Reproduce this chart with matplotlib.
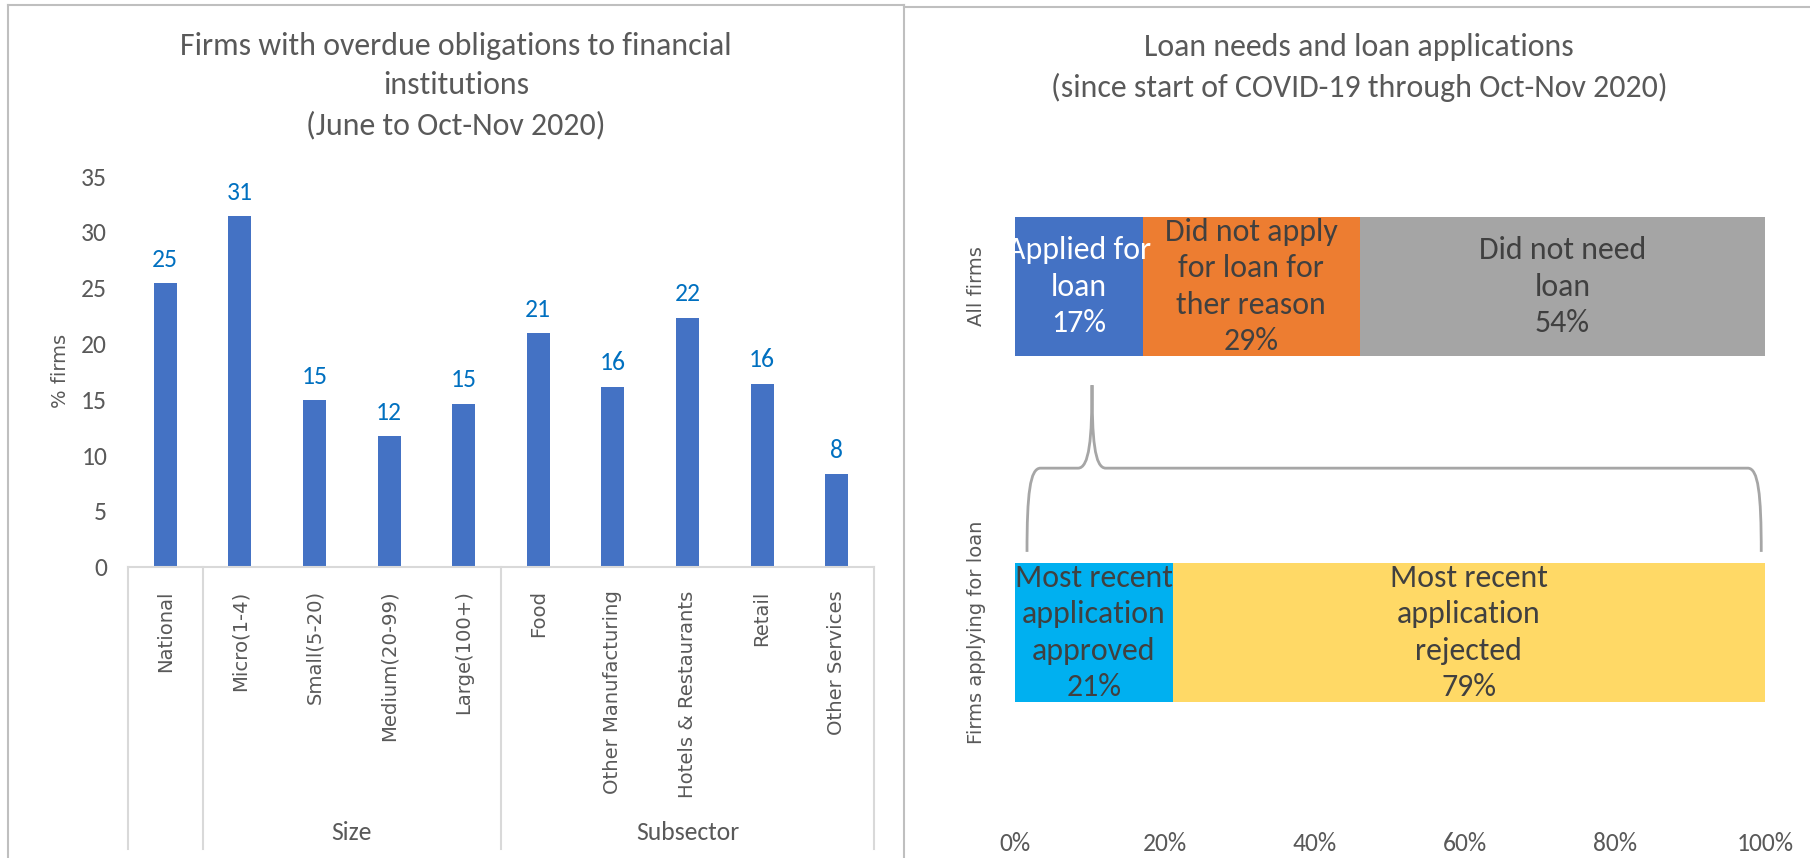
import matplotlib
matplotlib.use("Agg")
import matplotlib.pyplot as plt
from matplotlib import font_manager
from matplotlib.path import Path
from matplotlib.patches import PathPatch
from matplotlib.lines import Line2D
import matplotlib.transforms as mtransforms
from matplotlib.ticker import FuncFormatter

# overdue obligations by firm group (% of firms)
categories = ["National", "Micro(1-4)", "Small(5-20)", "Medium(20-99)", "Large(100+)",
              "Food", "Other Manufacturing", "Hotels & Restaurants", "Retail", "Other Services"]
overdue = [25.4, 31.4, 14.9, 11.7, 14.6, 20.9, 16.1, 22.3, 16.4, 8.3]
groups = [("Size", 1, 4), ("Subsector", 5, 9)]

# loan needs / applications (shares)
rows = ["Firms applying for loan", "All firms"]
all_firms = [0.17, 0.29, 0.54]
all_firms_labels = ["Applied for\nloan", "Did not apply\nfor loan for\nther reason", "Did not need\nloan"]
all_firms_colors = ["#4472C4", "#ED7D31", "#A5A5A5"]
applicants = [0.21, 0.79]
applicants_labels = ["Most recent\napplication\napproved", "Most recent\napplication\nrejected"]
applicants_colors = ["#00B0F0", "#FFD966"]

W, H = 1810, 858
GREY = "#595959"

installed = {f.name for f in font_manager.fontManager.ttflist}
narrow_pick = [n for n in ["Carlito", "Liberation Sans Narrow", "Roboto Condensed",
                           "Open Sans Condensed", "Roboto"] if n in installed]
NARROW = narrow_pick[:1] + ["DejaVu Sans"]
WIDE = ["DejaVu Sans"]
# font size scale per face
NS = {"Carlito": 1.12, "Liberation Sans Narrow": 1.2, "Roboto Condensed": 1.1,
      "Open Sans Condensed": 1.1, "Roboto": 1.0}.get(NARROW[0], 0.9)


def fx(px):
    return px / W


def fy(py):
    return 1 - py / H


fig = plt.figure(figsize=(W / 100, H / 100), dpi=100)

# panel frames
frame = dict(color="#BFBFBF", lw=1.5, transform=fig.transFigure)
fig.add_artist(Line2D([fx(8), fx(8)], [fy(4.5), 0], **frame))
fig.add_artist(Line2D([fx(8), fx(903.5)], [fy(4.5), fy(4.5)], **frame))
fig.add_artist(Line2D([fx(903.5), fx(903.5)], [fy(4.5), 0], **frame))
fig.add_artist(Line2D([fx(903.5), 1], [fy(6.7), fy(6.7)], **frame))

# ---- left: bar chart ----
ax = fig.add_axes([fx(128), fy(566.7), fx(874 - 128), (566.7 - 176) / H])
x = range(len(categories))
ax.bar(x, overdue, width=0.31, color="#4472C4")
for xi, v in zip(x, overdue):
    ax.annotate(f"{v:.0f}", (xi, v), xytext=(0, 9), textcoords="offset points",
                ha="center", va="bottom", color="#0070C0", fontsize=16.5 * NS, family=NARROW)
ax.set_xlim(-0.5, len(categories) - 0.5)
ax.set_ylim(0, 35)
ax.set_yticks(range(0, 36, 5))
ax.set_xticks(list(x))
ax.set_xticklabels(categories, rotation=90, va="top", ha="center",
                   family=WIDE, fontsize=14.1, color=GREY)
ax.tick_params(axis="x", length=0, pad=17)
ax.tick_params(axis="y", length=0, pad=15, labelsize=16.5 * NS, labelcolor=GREY)
for lab in ax.get_yticklabels():
    lab.set_family(NARROW)
for s in ["top", "right", "left"]:
    ax.spines[s].set_visible(False)
ax.spines["bottom"].set_color("#D9D9D9")
ax.spines["bottom"].set_linewidth(1.5)
ax.set_ylabel("% firms", family=WIDE, fontsize=14, color=GREY, labelpad=8)

# multi-level category axis separators and group names
blend = mtransforms.blended_transform_factory(ax.transData, ax.transAxes)
y_low = (566.7 - 849) / (566.7 - 176)
y_grp = (566.7 - 833) / (566.7 - 176)
for xs in [-0.5, 0.5, 4.5, len(categories) - 0.5]:
    ax.add_line(Line2D([xs, xs], [0, y_low], color="#D9D9D9", lw=1.5,
                       transform=blend, clip_on=False))
for name, a, b in groups:
    ax.text((a + b) / 2, y_grp, name, transform=blend, ha="center", va="center",
            fontsize=16.5 * NS, color=GREY, family=NARROW)

fig.text(fx(456), fy(86), "Firms with overdue obligations to financial\ninstitutions\n(June to Oct-Nov 2020)",
         ha="center", va="center", fontsize=20.5 * NS, color=GREY, family=NARROW, linespacing=1.48)

# ---- right: stacked shares ----
ax2 = fig.add_axes([fx(1015), fy(805.5), fx(1765 - 1015), 692 / H])
h = 0.4
left = 0
for share, lab, col in zip(all_firms, all_firms_labels, all_firms_colors):
    ax2.barh(1, share, left=left, height=h, color=col)
    tc = "white" if col == "#4472C4" else "#404040"
    ax2.text(left + share / 2, 1, f"{lab}\n{share:.0%}", ha="center", va="center",
             fontsize=20.5 * NS, color=tc, family=NARROW, linespacing=1.35)
    left += share
left = 0
for share, lab, col in zip(applicants, applicants_labels, applicants_colors):
    ax2.barh(0, share, left=left, height=h, color=col)
    ax2.text(left + share / 2, 0, f"{lab}\n{share:.0%}", ha="center", va="center",
             fontsize=20.5 * NS, color="#404040", family=NARROW, linespacing=1.35)
    left += share

ax2.set_xlim(0, 1)
ax2.set_ylim(-0.5, 1.5)
ax2.set_xticks([0, 0.2, 0.4, 0.6, 0.8, 1.0])
ax2.xaxis.set_major_formatter(FuncFormatter(lambda v, p: f"{v:.0%}"))
ax2.tick_params(axis="x", length=0, pad=19, labelsize=16.5 * NS, labelcolor=GREY)
for lab in ax2.get_xticklabels():
    lab.set_family(NARROW)
ax2.set_yticks([0, 1])
ax2.set_yticklabels(rows, rotation=90, va="center", ha="center",
                    family=WIDE, fontsize=14, color=GREY)
ax2.tick_params(axis="y", length=0, pad=28)
for s in ax2.spines.values():
    s.set_visible(False)

# brace linking "Applied for loan" to the applicants bar
verts = [
    (0.016, 0.233), (0.016, 0.40), (0.020, 0.475), (0.034, 0.475),
    (0.084, 0.475),
    (0.099, 0.475), (0.1027, 0.56), (0.1027, 0.715),
    (0.1027, 0.56), (0.106, 0.475), (0.121, 0.475),
    (0.977, 0.475),
    (0.991, 0.475), (0.995, 0.40), (0.995, 0.233),
]
codes = [Path.MOVETO, Path.CURVE4, Path.CURVE4, Path.CURVE4,
         Path.LINETO,
         Path.CURVE4, Path.CURVE4, Path.CURVE4,
         Path.CURVE4, Path.CURVE4, Path.CURVE4,
         Path.LINETO,
         Path.CURVE4, Path.CURVE4, Path.CURVE4]
ax2.add_patch(PathPatch(Path(verts, codes), facecolor="none", edgecolor="#A6A6A6",
                        lw=2, clip_on=False))

fig.text(fx(1359), fy(67.5), "Loan needs and loan applications\n(since start of COVID-19 through Oct-Nov 2020)",
         ha="center", va="center", fontsize=20.5 * NS, color=GREY, family=NARROW, linespacing=1.48)

fig.savefig("out.png", dpi=100)
